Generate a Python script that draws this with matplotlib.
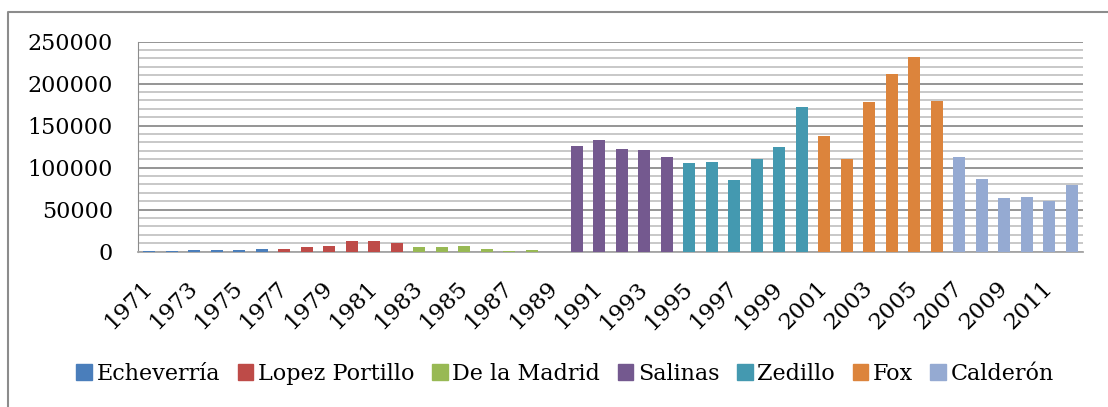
import numpy as np
import matplotlib.pyplot as plt
from matplotlib.patches import Patch

years = list(range(1971, 2013))
values = [800, 1200, 1600, 2400, 2000, 3200,
          3200, 5200, 7100, 12400, 12400, 10000,
          5600, 5200, 6800, 3600, 800, 2400,
          0, 125800, 132600, 122200, 121400, 112300,
          105200, 106400, 85000, 110300, 124600, 172600,
          137700, 110300, 178200, 211200, 231800, 179000,
          112700, 86500, 63600, 65100, 60400, 79400]
presidents = ["Echeverría", "Lopez Portillo", "De la Madrid", "Salinas",
              "Zedillo", "Fox", "Calderón"]
# president in office for each year
term = ([0] * 6 + [1] * 6 + [2] * 6 + [3] * 6 + [4] * 6 + [5] * 6 + [6] * 6)
colors = ["#4A7EBB", "#BE4B48", "#98B954", "#74598F",
          "#4499B0", "#DC843C", "#95AAD2"]

plt.rcParams['font.family'] = ['DejaVu Serif']

fig = plt.figure(figsize=(11.08, 4.07), dpi=100)

# chart frame: left and top edges, drawn in a bare full-figure axes
frame = fig.add_axes([0, 0, 1, 1], zorder=-1)
frame.set_xlim(0, 1108)
frame.set_ylim(407, 0)
frame.axis('off')
frame.plot([8, 8, 1120], [420, 12, 12], color='#8C8C8C', lw=1.5)

ax = fig.add_axes([0.1245, 0.3816, 0.853, 0.516])

x = np.arange(len(years))
vals = np.array(values)
term = np.array(term)
for i, name in enumerate(presidents):
    m = term == i
    ax.bar(x[m], vals[m], width=0.53, color=colors[i], zorder=3)

ax.set_xlim(-0.5, len(years) - 0.5)
ax.set_ylim(0, 250000)
ax.set_yticks(range(0, 250001, 50000))
ax.set_yticks(range(0, 250001, 10000), minor=True)
ax.grid(axis='y', which='minor', color='#C4C4C4', lw=1.3, zorder=0)
ax.grid(axis='y', which='major', color='#8C8C8C', lw=1.3, zorder=1)
ax.tick_params(axis='y', which='both', length=0, pad=18, labelsize=16)

ax.set_xticks(x[::2])
ax.set_xticklabels([str(y) for y in years[::2]], rotation=45, ha='right',
                   va='center', rotation_mode='anchor', fontsize=16.5)
ax.tick_params(axis='x', length=0, pad=24)

for side in ['top', 'right']:
    ax.spines[side].set_visible(False)
ax.spines['left'].set_color('#8C8C8C')
ax.spines['bottom'].set_color('#A6A6A6')
ax.spines['bottom'].set_linewidth(1.3)

handles = [Patch(color=c, label=n) for c, n in zip(colors, presidents)]
fig.legend(handles=handles, loc='center', bbox_to_anchor=(0.51, 0.081),
           ncol=7, frameon=False, fontsize=16, handlelength=0.7,
           handleheight=0.7, handletextpad=0.2, columnspacing=0.8)

fig.savefig('out.png', dpi=100)
